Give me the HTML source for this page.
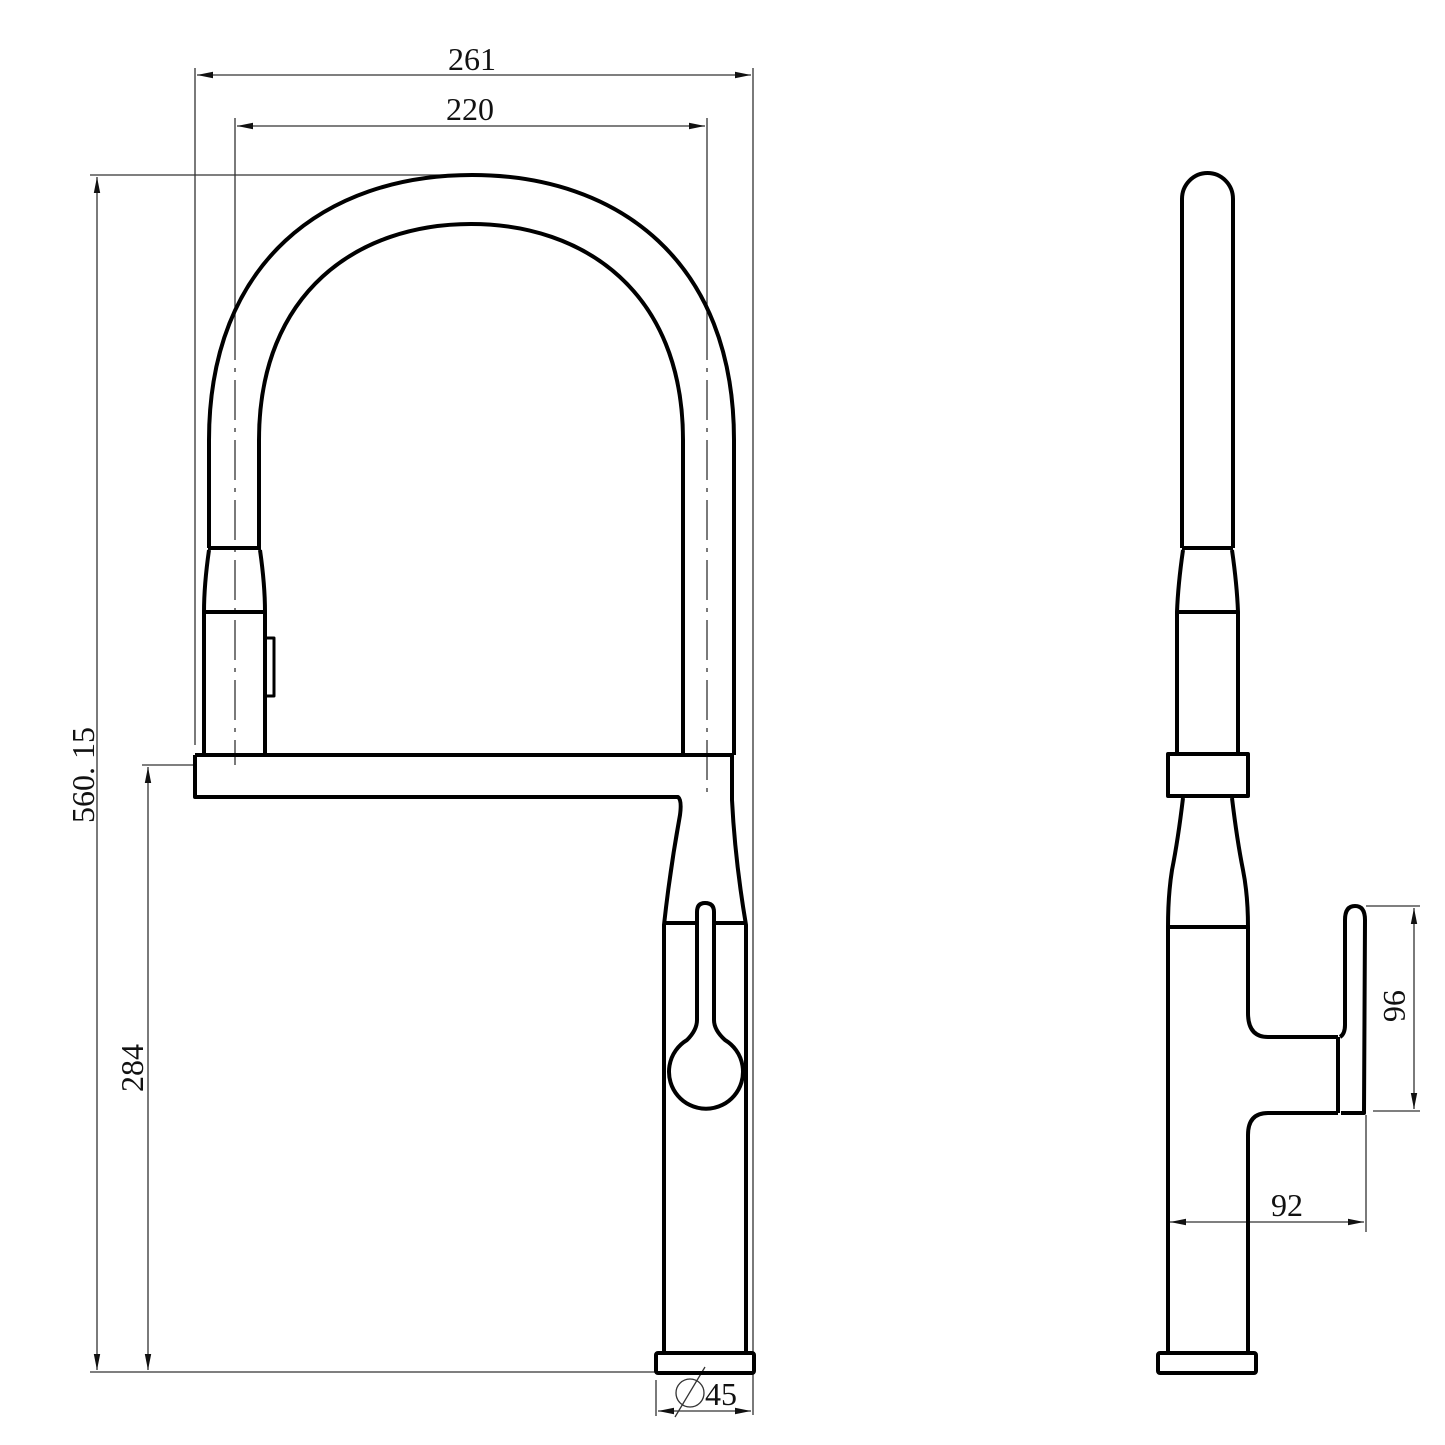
<!DOCTYPE html>
<html><head><meta charset="utf-8"><style>
html,body{margin:0;padding:0;background:#fff;}
svg{display:block}
text{font-family:"Liberation Serif",serif;font-size:32px;fill:#111;}
</style></head><body>
<svg width="1445" height="1445" viewBox="0 0 1445 1445" xmlns="http://www.w3.org/2000/svg">
<defs>
<marker id="a" viewBox="0 0 16 8" refX="16" refY="4" markerWidth="16" markerHeight="8" markerUnits="userSpaceOnUse" orient="auto-start-reverse">
<path d="M0,0.8 L16,4 L0,7.2 Z" fill="#111"/></marker>
</defs>
<g stroke="#333" stroke-width="1.3" fill="none">
<line x1="195" y1="68" x2="195" y2="745"/>
<line x1="753" y1="68" x2="753" y2="1415"/>
<line x1="235" y1="118" x2="235" y2="320"/>
<line x1="707" y1="118" x2="707" y2="320"/>
<line x1="235" y1="320" x2="235" y2="765" stroke-dasharray="40,8,4,8"/>
<line x1="707" y1="320" x2="707" y2="800" stroke-dasharray="40,8,4,8"/>
<line x1="197" y1="75" x2="751" y2="75" marker-start="url(#a)" marker-end="url(#a)"/>
<line x1="237" y1="126" x2="705" y2="126" marker-start="url(#a)" marker-end="url(#a)"/>
<line x1="90" y1="175" x2="470" y2="175"/>
<line x1="90" y1="1372" x2="656" y2="1372"/>
<line x1="97" y1="177" x2="97" y2="1370" marker-start="url(#a)" marker-end="url(#a)"/>
<line x1="142" y1="765" x2="194" y2="765"/>
<line x1="148" y1="767" x2="148" y2="1370" marker-start="url(#a)" marker-end="url(#a)"/>
<line x1="656" y1="1380" x2="656" y2="1416"/>
<line x1="658" y1="1411" x2="751" y2="1411" marker-start="url(#a)" marker-end="url(#a)"/>
<line x1="1366" y1="906" x2="1420" y2="906"/>
<line x1="1373" y1="1111" x2="1420" y2="1111"/>
<line x1="1414" y1="908" x2="1414" y2="1109" marker-start="url(#a)" marker-end="url(#a)"/>
<line x1="1366" y1="1115" x2="1366" y2="1232"/>
<line x1="1170" y1="1222" x2="1364" y2="1222" marker-start="url(#a)" marker-end="url(#a)"/>
<circle cx="690" cy="1393" r="14"/>
<line x1="675" y1="1417" x2="705" y2="1367"/>
</g>
<text x="472" y="70" text-anchor="middle">261</text>
<text x="470" y="120" text-anchor="middle">220</text>
<text transform="translate(94,775) rotate(-90)" text-anchor="middle">560. 15</text>
<text transform="translate(143,1068) rotate(-90)" text-anchor="middle">284</text>
<text x="721" y="1405" text-anchor="middle">45</text>
<text transform="translate(1384,1006) rotate(90)" text-anchor="middle">96</text>
<text x="1287" y="1216" text-anchor="middle">92</text>
<g stroke="#000" stroke-width="4" fill="none" stroke-linejoin="round">
<path d="M209,548 L209,440 C209,262 325,175 472,175 C619,175 734,262 734,440 L734,755"/>
<path d="M259,548 L259,440 C259,292 358,224 471,224 C584,224 683,292 683,440 L683,755"/>
<line x1="208" y1="548" x2="261" y2="548"/>
<path d="M209,550 Q204,585 204,612 L204,755"/>
<path d="M260,550 Q265,585 265,612 L265,755"/>
<line x1="204" y1="612" x2="265" y2="612"/>
<rect x="265" y="638" width="9" height="58" stroke-width="3"/>
<path d="M195,755 L732,755 L732,800 Q735,860 746,925 L746,1355"/>
<path d="M195,755 L195,797 L678,797 Q682,800 680,815 Q670,870 664,925 L664,1355"/>
<line x1="664" y1="923" x2="746" y2="923"/>
<path d="M697,1020 L697,912 Q697,903 705,903 Q714,903 714,912 L714,1020 Q714,1030 725,1040 A37,37 0 1 1 687,1040 Q697,1030 697,1020 Z" fill="#fff"/>
<rect x="656" y="1353" width="98" height="20" rx="2"/>
</g>
<g stroke="#000" stroke-width="4" fill="none" stroke-linejoin="round">
<path d="M1182,548 L1182,199 A25.5,26 0 0 1 1233,199 L1233,548"/>
<line x1="1182" y1="548" x2="1233" y2="548"/>
<path d="M1183,550 Q1178,585 1177,612 L1177,753"/>
<path d="M1232,550 Q1237,585 1238,612 L1238,753"/>
<line x1="1177" y1="612" x2="1238" y2="612"/>
<rect x="1168" y="754" width="80" height="42"/>
<path d="M1183,798 Q1178,840 1172,870 Q1168,895 1168,927 L1168,1355"/>
<path d="M1232,798 Q1237,840 1243,870 Q1248,895 1248,927 L1248,1013 Q1248,1037 1268,1037 L1338,1037"/>
<line x1="1168" y1="927" x2="1248" y2="927"/>
<path d="M1248,1355 L1248,1135 Q1248,1113 1268,1113 L1338,1113"/>
<line x1="1338" y1="1037" x2="1338" y2="1113"/>
<path d="M1341,1113 L1364,1113 L1365,920 Q1365,906 1355,906 Q1345,906 1345,920 L1345,1025 Q1345,1034 1340,1037"/>
<rect x="1158" y="1353" width="98" height="20" rx="2"/>
</g>
</svg>
</body></html>
